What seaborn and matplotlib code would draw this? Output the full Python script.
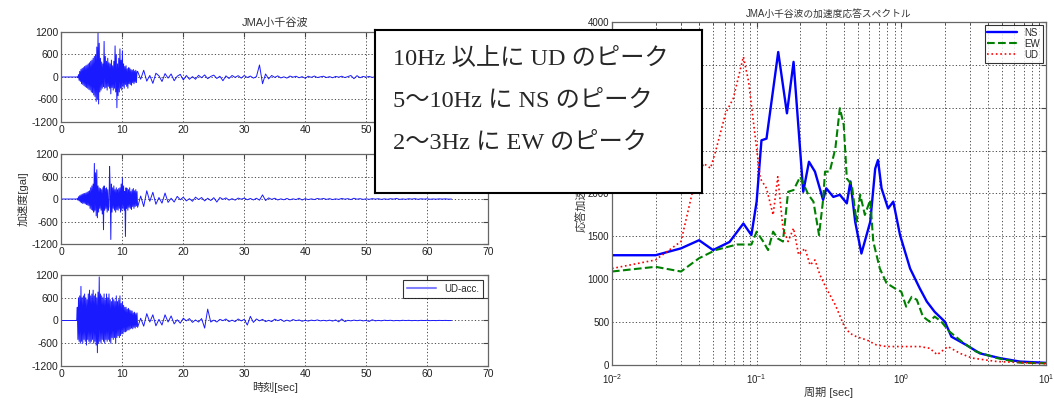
import numpy as np
import matplotlib
matplotlib.use("Agg")
import matplotlib.pyplot as plt
import seaborn as sns
from matplotlib.ticker import LogLocator, NullFormatter, FuncFormatter

sns.set_style("white")
plt.rcParams['font.family'] = ['Liberation Sans', 'Noto Sans CJK JP']
plt.rcParams['axes.unicode_minus'] = False

# sample times of the acceleration records [sec]
t_strong = np.arange(25, 125) / 10     # 2.5 ... 12.4
t_coda = np.arange(25, 129) / 2        # 12.5 ... 64.0

# NS record (top panel) [gal]
ns_strong = [
    0, 5, -20, 60, -90, 150, -120, 200, -180, 230,
    -200, 250, -230, 280, -260, 300, -280, 320, -300, 350,
    -330, 380, -350, 420, -400, 450, -420, 500, -480, 550,
    -520, 600, -650, 800, -600, 1180, -720, 900, -400, 500,
    -350, 400, -300, 350, -250, 950, -300, 550, -280, 420,
    -350, 500, -250, 380, -300, 350, -450, 450, -280, 300,
    -350, 420, -300, 830, -400, 600, -820, 350, -500, 500,
    -400, 750, -300, 450, -350, 700, -250, 350, -300, 280,
    -200, 300, -250, 220, -300, 250, -180, 240, -200, 200,
    -220, 180, -150, 200, -180, 160, -140, 180, -150, 140]
ns_coda = [
    150, -60, 180, -110, 40, -170, 100, 30, -120, 90,
    -30, 80, -100, 20, 70, -80, 40, -60, 10, -60,
    45, -20, 55, -45, 15, 50, -40, 20, -100, 30,
    -40, 40, -10, 35, -30, 40, -15, 25, -30, 10,
    320, -180, 80, -50, 40, -10, 30, -25, 5, -30,
    25, -5, 20, -20, 10, -35, 20, -10, 25, -15,
    5, 20, -15, 10, -20, 15, -5, 20, -15, 10,
    40, -45, 35, -20, 15, -5, 15, -10, 5, -15,
    10, -5, 15, -10, 5, -10, 10, -15, 5, -10,
    10, -5, 10, -8, 3, -8, 8, -3, 6, -6,
    4, -5, 3, 0]

# EW record (middle panel) [gal]
ew_strong = [
    0, 10, -30, 60, -50, 90, -80, 110, -100, 130,
    -120, 140, -110, 150, -130, 160, -150, 180, -160, 200,
    -180, 220, -250, 300, -280, 350, -300, 400, -350, 950,
    -300, 700, -450, 780, -500, 350, -350, 300, -250, 280,
    -300, 250, -400, 300, -820, 350, -300, 280, -250, 300,
    -350, 250, -300, -200, 870, 300, -1080, 400, -350, 300,
    -250, 350, -300, 250, -350, 300, -280, 250, -300, 280,
    -250, 300, -350, 400, -300, 560, -250, 350, -300, 200,
    -1000, 300, -250, 280, -300, 250, -220, 300, -250, 200,
    -280, 250, -200, 280, -250, 220, -200, 250, -180, 200]
ew_coda = [
    -220, 80, -200, 220, -60, 180, -140, 40, -110, 160,
    -90, 20, -80, 70, -20, 50, -50, 10, -60, 50,
    -15, 40, -50, 20, -40, 35, -80, 40, -10, 30,
    -30, 10, -30, 25, -5, 25, -20, 15, -25, 20,
    -30, 110, -40, 30, -10, 20, -25, 5, -20, 15,
    -20, 5, -15, 20, -25, 10, -15, 5, -15, 15,
    -5, 15, -10, 10, -15, 5, -10, 15, -5, 10,
    -15, 20, -5, 10, -10, 5, -8, 10, -3, 8,
    -10, 5, -8, 8, -3, 15, -10, 3, -8, 8,
    -3, 10, -8, 6, -2, 6, -6, 2, -5, 5,
    -2, 5, -4, 0]

# UD record (bottom panel) [gal]
ud_strong = [
    0, 350, -500, 600, -550, 650, -600, 900, -550, 600,
    -600, 650, -500, 700, -550, 600, -650, 550, -500, 700,
    -550, 800, -600, 650, -550, 700, -500, 800, -600, 650,
    -550, 700, -650, 600, -850, 750, -600, 1150, -550, 700,
    -600, 650, -500, 600, -550, 700, -600, 550, -500, 700,
    -550, 600, -500, 700, -550, 550, -600, 500, -450, 600,
    -500, 550, -450, 500, -600, 650, -450, 500, -400, 550,
    -450, 650, -400, 450, -350, 500, -350, 400, -300, 350,
    -300, 350, -280, 300, -250, 320, -250, 280, -220, 260,
    -200, 250, -220, 200, -180, 220, -200, 180, -160, 200]
ud_coda = [
    -180, 60, -150, 180, -40, 150, -140, 30, -120, 150,
    -40, 120, -90, 20, -70, 60, -10, 50, -50, 15,
    -40, 50, -200, 300, -40, 10, -40, 30, -5, 40,
    -30, 10, -30, 40, -10, 30, -120, 110, -50, 40,
    -10, 30, -30, 5, -30, 35, -5, 30, -25, 10,
    -20, 25, -5, 15, -20, 5, -15, 10, -5, 15,
    -10, 5, -10, 10, -15, 15, -35, 40, -30, 5,
    -10, 10, -5, 10, -10, 3, -25, 20, -10, 3,
    -8, 8, -2, 6, -8, 2, -6, 6, -2, 5,
    -5, 2, -5, 4, -1, 4, -4, 1, -3, 3,
    -1, 3, -2, 0]

# acceleration response spectra: period [sec], Sa [gal]
ns_period = [0.01, 0.02, 0.03, 0.04, 0.05, 0.065, 0.081, 0.092, 0.1, 0.108,
             0.117, 0.141, 0.162, 0.18, 0.21, 0.23, 0.253, 0.288, 0.303, 0.339,
             0.376, 0.42, 0.445, 0.48, 0.53, 0.61, 0.66, 0.69, 0.73, 0.81,
             0.88, 0.98, 1.15, 1.34, 1.5, 1.7, 2.0, 2.22, 2.8, 3.5,
             4.8, 6.6, 10.0]
ns_sa = [1280, 1280, 1360, 1455, 1340, 1435, 1650, 1515, 1905, 2620,
         2640, 3650, 2935, 3535, 2020, 2370, 2255, 1925, 2060, 1960,
         1985, 1885, 2140, 1670, 1300, 1670, 2290, 2390, 2060, 1825,
         1905, 1515, 1125, 895, 740, 620, 505, 330, 235, 135,
         80, 40, 25]

ew_period = [0.01, 0.02, 0.03, 0.04, 0.052, 0.073, 0.092, 0.1, 0.111, 0.12,
             0.13, 0.14, 0.152, 0.165, 0.18, 0.2, 0.228, 0.247, 0.27, 0.288,
             0.297, 0.32, 0.35, 0.376, 0.4, 0.42, 0.455, 0.49, 0.52, 0.56,
             0.61, 0.64, 0.71, 0.79, 0.9, 1.0, 1.08, 1.18, 1.28, 1.41,
             1.57, 1.7, 1.89, 2.15, 2.7, 3.3, 4.6, 6.6, 10.0]
ew_sa = [1090, 1145, 1090, 1245, 1340, 1405, 1405, 1555, 1440, 1340,
         1555, 1475, 1440, 2020, 2040, 2195, 1985, 1905, 1515, 1925,
         2255, 2255, 2525, 2995, 2800, 2175, 2100, 1670, 1985, 1750,
         1925, 1440, 1125, 955, 895, 855, 680, 795, 760, 565,
         505, 565, 505, 390, 255, 155, 80, 27, 20]

ud_period = [0.01, 0.02, 0.03, 0.0365, 0.043, 0.048, 0.052, 0.061, 0.069, 0.081,
             0.088, 0.098, 0.106, 0.117, 0.13, 0.14, 0.152, 0.165, 0.18, 0.195,
             0.216, 0.234, 0.253, 0.274, 0.303, 0.35, 0.4, 0.44, 0.49, 0.58,
             0.67, 0.79, 1.03, 1.34, 1.57, 1.77, 2.1, 2.55, 3.1, 4.6,
             10.0]
ud_sa = [1125, 1225, 1440, 2060, 2350, 2295, 2490, 2935, 3110, 3595,
         3305, 2645, 2175, 2060, 1750, 2195, 1595, 1440, 1595, 1285,
         1360, 1165, 1225, 1050, 895, 700, 465, 370, 330, 290,
         235, 215, 215, 215, 195, 120, 215, 135, 80, 40,
         15]

notes = ["10Hz 以上に UD のピーク", "5〜10Hz に NS のピーク", "2〜3Hz に EW のピーク"]

grid_kw = dict(color='black', linestyle=(0, (1.5, 2.5)), linewidth=0.6, alpha=0.8)
tick_color = '#222222'


def style_box(ax, size):
    for s in ax.spines.values():
        s.set_color('#666666')
        s.set_linewidth(0.9)
    ax.tick_params(direction='in', which='both', top=True, right=True,
                   labelsize=size, colors='#444444', labelcolor=tick_color, pad=2)


fig = plt.figure(figsize=(10.54, 4.05), dpi=100)

# --- time histories ---
rows = [
    ([0.0583, 0.6988, 0.4047, 0.2222], ns_strong, ns_coda),
    ([0.0583, 0.3975, 0.4047, 0.2222], ew_strong, ew_coda),
    ([0.0583, 0.0963, 0.4047, 0.2247], ud_strong, ud_coda),
]
wave_axes = []
for rect, strong, coda in rows:
    ax = fig.add_axes(rect)
    t = np.concatenate([[0.0], t_strong, t_coda])
    acc = np.concatenate([[0.0], strong, coda])
    sns.lineplot(x=t, y=acc, ax=ax, color='#1a1aff', linewidth=0.7,
                 estimator=None, sort=False)
    ax.set_xlim(0, 70)
    ax.set_ylim(-1200, 1200)
    ax.set_xticks(range(0, 71, 10))
    ax.set_yticks([-1200, -600, 0, 600, 1200])
    ax.grid(True, **grid_kw)
    style_box(ax, 7.5)
    wave_axes.append(ax)

wave_axes[0].set_title('JMA小千谷波', fontsize=8, color='#333333', pad=4)
wave_axes[1].set_ylabel('加速度[gal]', fontsize=8, color='#333333', labelpad=2)
wave_axes[2].set_xlabel('時刻[sec]', fontsize=8, color='#333333', labelpad=2)
wave_axes[2].lines[0].set_label('UD-acc.')
leg = wave_axes[2].legend(loc='upper right', fontsize=7, fancybox=False,
                          edgecolor='black', handlelength=3, borderpad=0.4)
leg.get_frame().set_linewidth(0.8)
leg.get_lines()[0].set_color('#8080ff')
leg.get_lines()[0].set_linewidth(1.5)

# --- response spectra ---
ax_sp = fig.add_axes([0.5806, 0.0988, 0.4118, 0.8469])
sns.lineplot(x=ns_period, y=ns_sa, ax=ax_sp, color='#0000ff', linewidth=1.7,
             estimator=None, sort=False, label='NS')
sns.lineplot(x=ew_period, y=ew_sa, ax=ax_sp, color='#008000', linewidth=1.5,
             linestyle='--', estimator=None, sort=False, label='EW')
sns.lineplot(x=ud_period, y=ud_sa, ax=ax_sp, color='#ff0000', linewidth=1.2,
             linestyle=':', estimator=None, sort=False, label='UD')
ax_sp.set_xscale('log')
ax_sp.set_xlim(0.01, 10)
ax_sp.set_ylim(0, 4000)
ax_sp.set_yticks(range(0, 4001, 500))
# 2500-3500 labels sit under the note box in the reference
ax_sp.yaxis.set_major_formatter(
    FuncFormatter(lambda v, p: '' if 2400 < v < 3600 else f'{v:.0f}'))
ax_sp.xaxis.set_major_locator(LogLocator(base=10))
ax_sp.xaxis.set_minor_locator(LogLocator(base=10, subs=np.arange(2, 10)))
ax_sp.xaxis.set_minor_formatter(NullFormatter())
ax_sp.grid(True, which='both', axis='x', **grid_kw)
ax_sp.grid(True, which='major', axis='y', **grid_kw)
style_box(ax_sp, 7)
ax_sp.tick_params(axis='x', which='major', pad=5)
ax_sp.set_title('JMA小千谷波の加速度応答スペクトル', fontsize=7, color='#333333', pad=4)
ax_sp.set_xlabel('周期 [sec]', fontsize=8, color='#333333', labelpad=1)
ax_sp.set_ylabel('応答加速度[gal]', fontsize=8, color='#333333', labelpad=1)
leg2 = ax_sp.legend(loc='upper right', fontsize=7, fancybox=False, edgecolor='black',
                    handlelength=3, borderpad=0.3, labelspacing=0.1,
                    borderaxespad=0.3)
leg2.get_frame().set_linewidth(0.8)

# --- annotation box ---
box = fig.add_axes([0.3558, 0.5235, 0.3102, 0.4025], zorder=10)
box.set_xticks([])
box.set_yticks([])
box.set_facecolor('white')
for s in box.spines.values():
    s.set_color('black')
    s.set_linewidth(1.5)
for note, yy in zip(notes, [0.822, 0.565, 0.302]):
    box.text(0.055, yy, note, transform=box.transAxes, fontsize=17.5,
             family=['Liberation Serif', 'Noto Sans CJK JP'], va='center', ha='left')

fig.savefig('out.png', dpi=100)
